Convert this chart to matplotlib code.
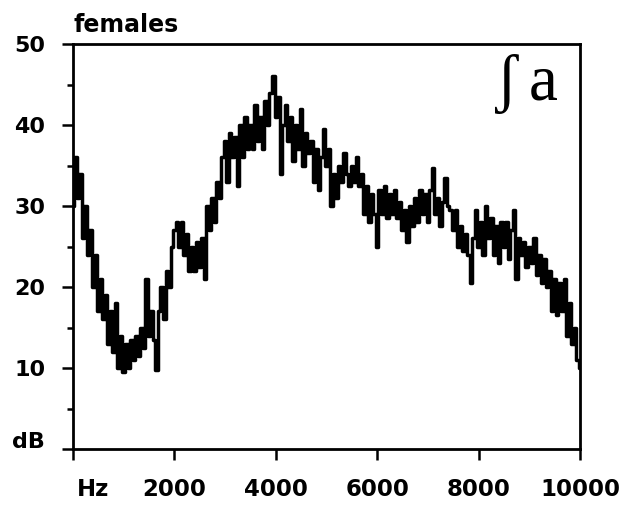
import matplotlib
matplotlib.use("Agg")
import matplotlib.pyplot as plt
import numpy as np
from matplotlib.ticker import MultipleLocator, FixedLocator, FixedFormatter
import matplotlib.transforms as mtransforms

# Averaged spectrum of /ʃa/, female speakers: level (dB) every 50 Hz from 0 to 10000 Hz
freq_step_hz = 50
level_db = [
    30, 36, 31, 34, 26, 30, 24, 27, 20, 24,                 # 0-450
    17, 21, 16, 19, 13, 17, 12, 18, 10, 14,                 # 500-950
    9.5, 13, 10, 13.5, 11, 14, 11.5, 15, 12.5, 21,          # 1000-1450
    14, 17, 13.5, 9.7, 17, 20, 16, 22, 20, 25,              # 1500-1950
    27, 28, 25, 28, 24, 26.5, 22, 25, 22, 25.5,             # 2000-2450
    22.5, 26, 21, 30, 27, 31, 28, 33, 31, 36,               # 2500-2950
    38, 33, 39, 36, 38.5, 32.5, 40, 36, 41, 37,             # 3000-3450
    40, 37, 42.5, 38, 41, 37, 43, 40, 44, 46,               # 3500-3950
    41, 43.5, 34, 40, 42.5, 38, 41, 35.5, 40, 37,           # 4000-4450
    42, 35, 39, 36.5, 38, 33, 37, 32, 36, 39.5,             # 4500-4950
    35, 37, 30, 34, 31, 35, 33, 36.5, 34, 32.5,             # 5000-5450
    35, 33, 36, 32.5, 34, 29, 32.5, 28, 31.5, 29,           # 5500-5950
    25, 32, 29, 32.5, 28.5, 31.5, 29, 32, 28.5, 30.5,       # 6000-6450
    27, 29.5, 25.5, 30, 27.5, 31, 28, 32, 29, 31.5,         # 6500-6950
    28, 32, 34.7, 29, 31, 27.5, 30.5, 33.5, 30, 29.5,       # 7000-7450
    27, 29.5, 25, 27.5, 24.5, 26.5, 24, 20.5, 26, 29.5,     # 7500-7950
    25, 28, 24, 30, 26, 28.5, 24, 27.5, 23, 28,             # 8000-8450
    25, 28, 23.5, 27, 29.5, 21, 26, 24, 25.5, 22.5,         # 8500-8950
    25, 23, 26, 21.5, 24, 20.5, 23.5, 20, 22, 17,           # 9000-9450
    21, 16.5, 20.5, 17, 21, 14, 18, 13, 15, 11, 10,         # 9500-10000
]
freq_hz = np.arange(len(level_db)) * freq_step_hz

x_ticks = [0, 2000, 4000, 6000, 8000, 10000]
x_tick_labels = ["Hz", "2000", "4000", "6000", "8000", "10000"]
y_ticks = [0, 10, 20, 30, 40, 50]
y_tick_labels = ["dB", "10", "20", "30", "40", "50"]

fig = plt.figure(figsize=(6.33, 5.08), dpi=100)
ax = fig.add_axes([73 / 633, 59 / 508, 507 / 633, 405 / 508])

ax.plot(freq_hz, level_db, color="black", lw=2.5, drawstyle="steps-mid")

ax.set_xlim(0, 10000)
ax.set_ylim(0, 50)

for side in ["left", "right", "top", "bottom"]:
    ax.spines[side].set_linewidth(2)
    ax.spines[side].set_color("black")

ax.xaxis.set_major_locator(FixedLocator(x_ticks))
ax.xaxis.set_major_formatter(FixedFormatter(x_tick_labels))
ax.yaxis.set_major_locator(FixedLocator(y_ticks))
ax.yaxis.set_major_formatter(FixedFormatter(y_tick_labels))
ax.yaxis.set_minor_locator(MultipleLocator(5))

ax.tick_params(axis="both", which="major", direction="out", length=8, width=1.8,
               color="black")
ax.tick_params(axis="y", which="major", pad=12)
ax.tick_params(axis="x", which="major", pad=13)
ax.tick_params(axis="y", which="minor", direction="out", length=4, width=1.8)

fig.canvas.draw()
xlabels = ax.get_xticklabels()
ylabels = ax.get_yticklabels()
for lab in xlabels:
    lab.set_fontfamily("DejaVu Sans")
    lab.set_fontweight("bold")
    lab.set_fontsize(16.5)
for lab in ylabels:
    lab.set_fontfamily("DejaVu Sans")
    lab.set_fontweight("bold")
    lab.set_fontsize(16)

# Unit labels: "Hz" nudged right of the origin tick, "dB" lifted above the baseline
xlabels[0].set_transform(xlabels[0].get_transform()
                         + mtransforms.ScaledTranslation(0.20, 0, fig.dpi_scale_trans))
ylabels[0].set_transform(ylabels[0].get_transform()
                         + mtransforms.ScaledTranslation(0, 0.09, fig.dpi_scale_trans))

ax.text(0, 1.03, "females", transform=ax.transAxes, ha="left", va="baseline",
        family="DejaVu Sans", weight="bold", size=17)

serif = ["Liberation Serif", "DejaVu Serif"]
ax.text(9550, 43.1, "a", ha="right", va="baseline", family=serif, size=47)
ax.text(8560, 43.1, "ʃ", ha="center", va="baseline", family=serif, size=47)

fig.savefig("out.png", dpi=100)
